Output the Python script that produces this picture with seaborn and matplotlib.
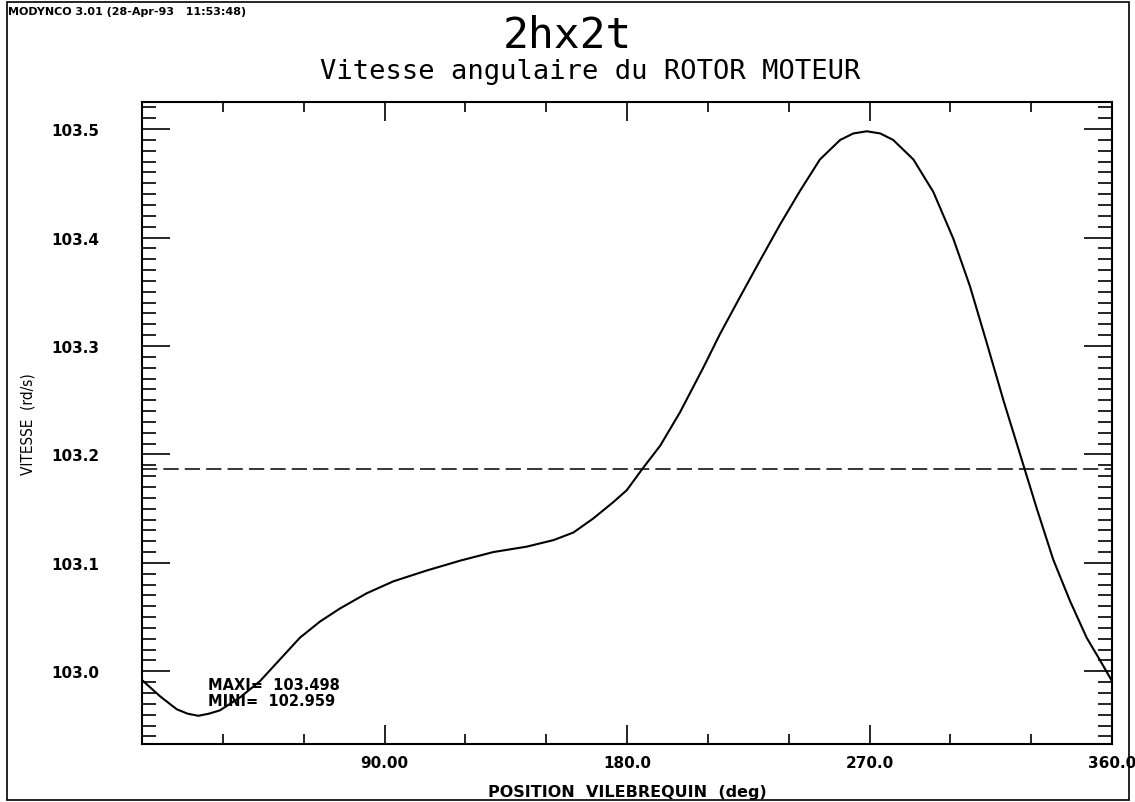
import numpy as np
import pandas as pd
import matplotlib
matplotlib.use("Agg")
import matplotlib.pyplot as plt
import seaborn as sns
from matplotlib.ticker import MultipleLocator, FixedLocator
from matplotlib.patches import Rectangle

# ---- data ----
angle_deg = [0.0, 6.7, 12.9, 16.9, 20.9, 24.9, 28.9, 36.4, 43.8, 51.2, 58.6, 66.1,
             73.5, 83.4, 93.3, 105.7, 118.0, 130.4, 142.8, 152.7, 160.1, 167.5,
             174.9, 179.9, 186.1, 192.3, 199.7, 208.3, 214.5, 221.9, 229.4, 236.8,
             244.2, 251.6, 259.1, 264.0, 269.0, 274.0, 278.8, 286.3, 293.7, 301.1,
             307.3, 313.5, 319.7, 325.9, 332.1, 338.2, 344.4, 350.6, 355.6, 360.0]
speed_rds = [102.992, 102.977, 102.965, 102.961, 102.959, 102.961, 102.964, 102.976,
             102.991, 103.011, 103.031, 103.046, 103.058, 103.072, 103.083, 103.093,
             103.102, 103.110, 103.115, 103.121, 103.128, 103.141, 103.156, 103.167,
             103.188, 103.208, 103.239, 103.280, 103.311, 103.345, 103.379, 103.412,
             103.443, 103.472, 103.490, 103.496, 103.498, 103.496, 103.490, 103.472,
             103.442, 103.399, 103.355, 103.303, 103.250, 103.200, 103.150, 103.103,
             103.065, 103.031, 103.010, 102.991]
mean_speed = 103.187
maxi = 103.498
mini = 102.959
x_ticks = [90, 180, 270, 360]
x_tick_labels = ["90.00", "180.0", "270.0", "360.0"]
y_ticks = [103.0, 103.1, 103.2, 103.3, 103.4, 103.5]
y_tick_labels = ["103.0", "103.1", "103.2", "103.3", "103.4", "103.5"]

df = pd.DataFrame({"angle": angle_deg, "speed": speed_rds})

sns.set_style("ticks")
plt.rcParams["font.family"] = ["DejaVu Sans"]
plt.rcParams["text.color"] = "black"
plt.rcParams["axes.labelcolor"] = "black"
plt.rcParams["xtick.color"] = "black"
plt.rcParams["ytick.color"] = "black"

fig = plt.figure(figsize=(11.35, 8.03), dpi=100)
ax = fig.add_axes([142 / 1135, 1 - 745 / 803, (1112 - 142) / 1135, (745 - 103) / 803])

sns.lineplot(data=df, x="angle", y="speed", ax=ax, color="black", linewidth=1.5)
ax.axhline(mean_speed, color="black", linewidth=1.1, linestyle=(0, (10, 4)))

ax.set_xlim(0, 360)
ax.set_ylim(102.933, 103.525)

ax.xaxis.set_major_locator(FixedLocator(x_ticks))
ax.set_xticklabels(x_tick_labels)
ax.xaxis.set_minor_locator(MultipleLocator(30))
ax.yaxis.set_major_locator(FixedLocator(y_ticks))
ax.set_yticklabels(y_tick_labels)
ax.yaxis.set_minor_locator(MultipleLocator(0.01))

ax.tick_params(axis="both", which="both", direction="in", top=True, right=True,
               color="black", width=1.2, labelcolor="black")
ax.tick_params(axis="x", which="major", length=14, pad=8)
ax.tick_params(axis="x", which="minor", length=7)
ax.tick_params(axis="y", which="major", length=20, pad=31)
ax.tick_params(axis="y", which="minor", length=10)
for lab in ax.get_xticklabels() + ax.get_yticklabels():
    lab.set_fontweight("bold")
    lab.set_fontsize(11)
for s in ax.spines.values():
    s.set_linewidth(1.5)
    s.set_color("black")

ax.set_xlabel("POSITION  VILEBREQUIN  (deg)", fontsize=11.5, fontweight="bold",
              labelpad=10, color="black")
ax.set_ylabel("VITESSE  (rd/s)", fontsize=11, color="black", fontstretch="condensed")
ax.yaxis.set_label_coords(-0.110, 0.5)

ax.text(24.5, 102.988, "MAXI=  %.3f" % maxi, fontsize=10.5, fontweight="bold",
        va="center", color="black")
ax.text(24.5, 102.973, "MINI=  %.3f" % mini, fontsize=10.5, fontweight="bold",
        va="center", color="black")

fig.text(567 / 1135, 1 - 36 / 803, "2hx2t", fontsize=31, ha="center", va="center",
         family="DejaVu Sans Mono", color="black")
fig.text(590 / 1135, 1 - 72 / 803, "Vitesse angulaire du ROTOR MOTEUR", fontsize=19.5,
         ha="center", va="center", family="DejaVu Sans Mono", color="black")
fig.text(8 / 1135, 1 - 12 / 803, "MODYNCO 3.01 (28-Apr-93   11:53:48)", fontsize=8,
         fontweight="bold", ha="left", va="center", color="black")

fig.patches.append(Rectangle((7 / 1135, 2 / 803), (1129 - 7) / 1135, (800 - 2) / 803,
                             transform=fig.transFigure, fill=False, edgecolor="black",
                             linewidth=1.2))

fig.savefig("out.png", dpi=100, facecolor="white")
